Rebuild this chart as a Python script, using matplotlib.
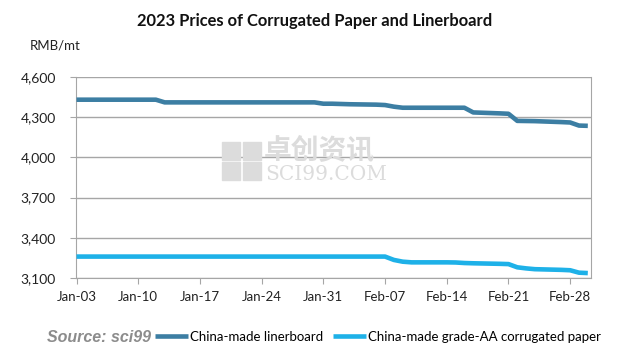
import datetime as dt
import matplotlib
matplotlib.use("Agg")
import matplotlib.pyplot as plt
import matplotlib.dates as mdates
from matplotlib.patches import Rectangle

plt.rcParams['font.family'] = ['Lato', 'Noto Sans CJK SC', 'DejaVu Sans']

# trading days (CNY week skipped)
days = ["01-03", "01-04", "01-05", "01-06", "01-09", "01-10", "01-11", "01-12", "01-13",
        "01-16", "01-17", "01-18", "01-19", "01-20", "01-30", "01-31",
        "02-01", "02-02", "02-03", "02-06", "02-07", "02-08", "02-09", "02-10",
        "02-13", "02-14", "02-15", "02-16", "02-17", "02-20", "02-21", "02-22",
        "02-23", "02-24", "02-27", "02-28", "03-01", "03-02"]

linerboard = [4430, 4430, 4430, 4430, 4430, 4430, 4430, 4430, 4410,
              4410, 4410, 4410, 4410, 4410, 4410, 4400,
              4400, 4398, 4396, 4393, 4390, 4378, 4370, 4370,
              4370, 4370, 4370, 4370, 4335, 4328, 4325, 4272,
              4271, 4270, 4263, 4260, 4237, 4235]

corrugated = [3260, 3260, 3260, 3260, 3260, 3260, 3260, 3260, 3260,
              3260, 3260, 3260, 3260, 3260, 3260, 3260,
              3260, 3260, 3260, 3260, 3260, 3235, 3222, 3217,
              3217, 3217, 3216, 3212, 3210, 3206, 3204, 3180,
              3172, 3166, 3161, 3158, 3140, 3137]

tick_days = ["01-03", "01-10", "01-17", "01-24", "01-31", "02-07", "02-14", "02-21", "02-28"]
yticks = [3100, 3400, 3700, 4000, 4300, 4600]


def to_date(s):
    return dt.datetime.strptime("2023-" + s, "%Y-%m-%d")


x = [to_date(d) for d in days]

fig = plt.figure(figsize=(6.34, 3.56), dpi=100)
ax = fig.add_axes([0.12, 0.219, 0.812, 0.565])

dark = "#3c7ea3"
light = "#1eb1e8"
l1, = ax.plot(x, linerboard, color=dark, lw=3.3, solid_capstyle="butt", zorder=3)
l2, = ax.plot(x, corrugated, color=light, lw=3.3, solid_capstyle="butt", zorder=3)

ax.set_ylim(3100, 4600)
ax.set_yticks(yticks)
ax.set_yticklabels([f"{v:,}" for v in yticks])
ax.set_xlim(to_date("01-03") - dt.timedelta(days=0.05), to_date("03-02") + dt.timedelta(days=0.35))
ax.set_xticks([to_date(d) for d in tick_days])
ax.xaxis.set_major_formatter(mdates.DateFormatter("%b-%d"))

ax.grid(axis="y", color="#a6a6a6", lw=1)
ax.set_axisbelow(True)
for s in ax.spines.values():
    s.set_color("#a6a6a6")
ax.spines["top"].set_visible(False)
ax.tick_params(axis="both", colors="#a6a6a6", labelcolor="#222222", labelsize=9.5, length=4.5)
ax.tick_params(axis="x", pad=5)
ax.tick_params(axis="y", pad=10, labelsize=10)

# watermark
wm = "#dcdcdc"
for (fx, fy) in [(222, 142), (243, 142), (222, 162), (243, 162)]:
    fig.patches.append(Rectangle((fx / 634, 1 - (fy + 18) / 356), 18 / 634, 18 / 356,
                                 transform=fig.transFigure, color=wm, zorder=1))
fig.text(264 / 634, 1 - 151 / 356, "卓创资讯", fontsize=20, color=wm, va="center",
         family=['Noto Sans CJK SC'], fontweight="bold", zorder=1)
fig.text(265 / 634, 1 - 174 / 356, "SCI99.COM", fontsize=14.5, color=wm, va="center",
         family=['DejaVu Serif'], zorder=1)

fig.text(315 / 634, 1 - 21 / 356, "2023 Prices of Corrugated Paper and Linerboard",
         ha="center", va="center", fontsize=11.9, fontweight="bold", color="#111111")
fig.text(30 / 634, 1 - 45 / 356, "RMB/mt", ha="left", va="center", fontsize=9.5, color="#222222")

fig.text(47 / 634, 1 - 337 / 356, "Source: sci99", ha="left", va="center", fontsize=11.5,
         fontweight="bold", style="italic", color="#8c8c8c", family=['Liberation Sans'])

fig.legend([l1, l2], ["China-made linerboard", "China-made grade-AA corrugated paper"],
           loc="center left", bbox_to_anchor=(155 / 634, 1 - 337 / 356), ncol=2, frameon=False,
           fontsize=9.5, handlelength=2.5, handletextpad=0.15, columnspacing=0.75,
           borderaxespad=0, borderpad=0)

fig.savefig("out.png", dpi=100, facecolor="white")
